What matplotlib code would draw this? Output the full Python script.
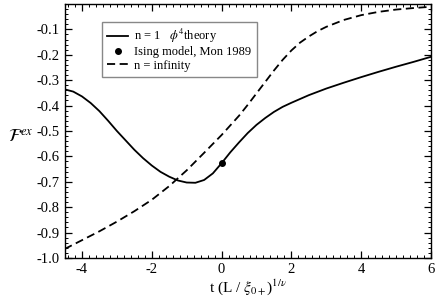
import numpy as np
import matplotlib
matplotlib.use("Agg")
import matplotlib.pyplot as plt
from matplotlib.ticker import MultipleLocator

# values
t_phi4 = [-4.5, -4.25, -4.0, -3.75, -3.5, -3.25, -3.0, -2.5, -2.25, -2.0, -1.75, -1.5, -1.25, -1.0, -0.75,
          -0.5, -0.25, 0.0,
          0.25, 0.5, 0.75, 1.0, 1.25, 1.5, 1.75, 2.0, 2.5, 3.0, 3.5, 4.0, 4.5, 5.0, 5.5, 6.0]
f_phi4 = [-0.336, -0.345, -0.364, -0.390, -0.422, -0.460, -0.500, -0.574, -0.607, -0.636, -0.661, -0.680,
          -0.695, -0.703, -0.704, -0.693, -0.667, -0.627,
          -0.584, -0.545, -0.508, -0.476, -0.449, -0.425, -0.405, -0.389, -0.359, -0.333, -0.310, -0.288,
          -0.267, -0.247, -0.228, -0.208]

t_inf = [-4.5, -4.0, -3.5, -3.0, -2.5, -2.0, -1.5, -1.0, -0.5, 0.0,
         0.5, 0.75, 1.0, 1.25, 1.5, 1.75, 2.0, 2.25, 2.5, 2.75, 3.0, 3.5, 4.0, 4.5, 5.0, 5.5, 6.0]
f_inf = [-0.965, -0.930, -0.895, -0.857, -0.816, -0.771, -0.717, -0.655, -0.586, -0.516,
         -0.440, -0.397, -0.352, -0.307, -0.262, -0.220, -0.183, -0.152, -0.128, -0.107, -0.090,
         -0.063, -0.044, -0.031, -0.022, -0.016, -0.011]

t_ising = [0.0]
f_ising = [-0.627]

y_ticks = [-1.0, -0.9, -0.8, -0.7, -0.6, -0.5, -0.4, -0.3, -0.2, -0.1]

plt.rcParams['font.family'] = ['Liberation Serif', 'DejaVu Serif']
plt.rcParams['mathtext.fontset'] = 'stix'
plt.rcParams['axes.unicode_minus'] = False

fig = plt.figure(figsize=(4.36, 3.06), dpi=100)
ax = fig.add_axes([0.148, 0.157, 0.8405, 0.830])

ax.plot(t_phi4, f_phi4, color='black', lw=1.3, label=r'n = 1   $\phi^4$theory')
ax.plot(t_ising, f_ising, 'o', color='black', ms=4, label='Ising model, Mon 1989')
ax.plot(t_inf, f_inf, color='black', lw=1.3, ls=(0, (4.5, 2.5)), label='n = infinity')

ax.set_xlim(-4.5, 6)
ax.set_ylim(-1.0, 0.0)
ax.xaxis.set_major_locator(MultipleLocator(2))
ax.xaxis.set_minor_locator(MultipleLocator(0.2))
ax.yaxis.set_minor_locator(MultipleLocator(0.02))
ax.set_yticks(y_ticks)
ax.set_yticklabels([f'{v:.1f}' for v in y_ticks])
ax.tick_params(which='both', direction='in', top=True, right=True, labelsize=10.5)
ax.tick_params(which='major', length=5, width=0.9)
ax.tick_params(which='minor', length=2.5, width=0.7)
for s in ax.spines.values():
    s.set_linewidth(1.0)

ax.set_xlabel(r't (L / $\xi_{0+}$)$^{1/\nu}$', fontsize=11, labelpad=1)
ax.set_ylabel(r'$\mathcal{F}^{ex}$', fontsize=13, rotation=0, ha='center', va='center')
ax.yaxis.set_label_coords(-0.12, 0.475)

leg = ax.legend(loc='upper left', bbox_to_anchor=(0.102, 0.929), borderaxespad=0,
                fontsize=9, fancybox=False, framealpha=1, edgecolor='#888888',
                handlelength=1.7, handletextpad=0.5, borderpad=0.4, labelspacing=0.1)
leg.get_frame().set_linewidth(1.0)

fig.savefig('out.png', dpi=100)
